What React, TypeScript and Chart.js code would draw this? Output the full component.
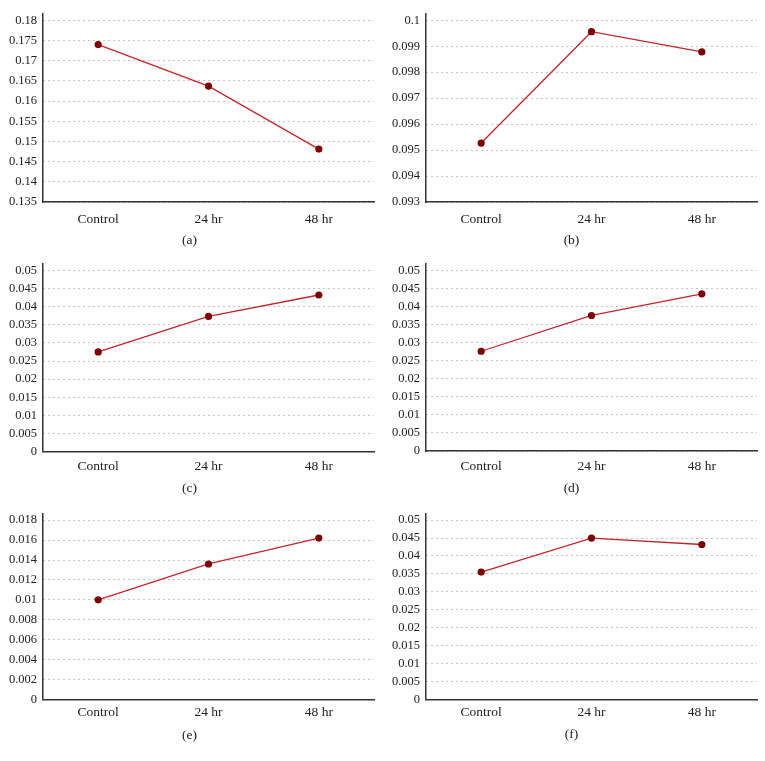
import React, { useEffect, useRef } from "react";
import { Chart, registerables } from "chart.js";

Chart.register(...registerables);

const categories = ["Control", "24 hr", "48 hr"];

const seriesA = [0.174, 0.1637, 0.1481];
const seriesB = [0.09527, 0.09956, 0.09878];
const seriesC = [0.0275, 0.0373, 0.0432];
const seriesD = [0.0276, 0.0375, 0.0435];
const seriesE = [0.01, 0.0136, 0.0162];
const seriesF = [0.0355, 0.045, 0.0432];

const ticksA = [0.135, 0.14, 0.145, 0.15, 0.155, 0.16, 0.165, 0.17, 0.175, 0.18];
const ticksB = [0.093, 0.094, 0.095, 0.096, 0.097, 0.098, 0.099, 0.1];
const ticksC = [0, 0.005, 0.01, 0.015, 0.02, 0.025, 0.03, 0.035, 0.04, 0.045, 0.05];
const ticksD = [0, 0.005, 0.01, 0.015, 0.02, 0.025, 0.03, 0.035, 0.04, 0.045, 0.05];
const ticksE = [0, 0.002, 0.004, 0.006, 0.008, 0.01, 0.012, 0.014, 0.016, 0.018];
const ticksF = [0, 0.005, 0.01, 0.015, 0.02, 0.025, 0.03, 0.035, 0.04, 0.045, 0.05];

const captions = ["(a)", "(b)", "(c)", "(d)", "(e)", "(f)"];

const FONT = "'Liberation Serif', 'DejaVu Serif', serif";
const LINE_COLOR = "#c0272d";
const POINT_COLOR = "#7a0000";

type Layout = {
  left: number;
  top: number;
  w: number;
  h: number;
  topTickY: number;
  bottomY: number;
  xPad: number;
  capX: number;
  capY: number;
};

const layouts: Layout[] = [
  { left: 0, top: 0, w: 382, h: 250, topTickY: 15, bottomY: 202, xPad: 9.5, capX: 189.5, capY: 240 },
  { left: 383, top: 0, w: 382, h: 250, topTickY: 15, bottomY: 202, xPad: 9.5, capX: 188.5, capY: 240 },
  { left: 0, top: 250, w: 382, h: 250, topTickY: 15.7, bottomY: 201.7, xPad: 6.5, capX: 189.5, capY: 238.3 },
  { left: 383, top: 250, w: 382, h: 250, topTickY: 15, bottomY: 201, xPad: 7.8, capX: 188.5, capY: 238.3 },
  { left: 0, top: 500, w: 382, h: 261, topTickY: 12.3, bottomY: 199.3, xPad: 5.5, capX: 189.5, capY: 235 },
  { left: 383, top: 500, w: 382, h: 261, topTickY: 11, bottomY: 199.3, xPad: 5.2, capX: 188.5, capY: 234.3 },
];

const panels = [
  { data: seriesA, ticks: ticksA },
  { data: seriesB, ticks: ticksB },
  { data: seriesC, ticks: ticksC },
  { data: seriesD, ticks: ticksD },
  { data: seriesE, ticks: ticksE },
  { data: seriesF, ticks: ticksF },
];

function fmt(v: number): string {
  return String(parseFloat(Number(v).toFixed(6)));
}

function Panel({ idx }: { idx: number }) {
  const ref = useRef<HTMLCanvasElement | null>(null);
  const L = layouts[idx];
  const P = panels[idx];

  useEffect(() => {
    if (!ref.current) return;
    const tv = P.ticks;
    const minV = tv[0];
    const topV = tv[tv.length - 1];
    const ext = 7;
    const maxV = topV + ((topV - minV) * ext) / (L.bottomY - L.topTickY);
    const chart = new Chart(ref.current, {
      type: "line",
      data: {
        labels: categories,
        datasets: [
          {
            data: P.data,
            borderColor: LINE_COLOR,
            borderWidth: 1.3,
            pointRadius: 3.6,
            pointBackgroundColor: POINT_COLOR,
            pointBorderColor: POINT_COLOR,
            pointBorderWidth: 0,
            tension: 0,
            fill: false,
          },
        ],
      },
      options: {
        animation: false,
        responsive: false,
        maintainAspectRatio: false,
        layout: { padding: { top: L.topTickY - ext, right: 8, left: 0, bottom: 0 } },
        plugins: {
          legend: { display: false },
          tooltip: { enabled: false },
          title: { display: false },
        },
        scales: {
          x: {
            offset: true,
            grid: { display: false, drawTicks: false },
            border: { display: true, color: "#333", width: 1.5 },
            ticks: { color: "#222", font: { family: FONT, size: 13.5 }, padding: L.xPad },
            afterFit: (s: any) => {
              s.height = L.h - L.bottomY;
            },
          },
          y: {
            min: minV,
            max: maxV,
            grid: { color: "#8c8c8c", lineWidth: 1, drawTicks: false },
            border: { display: true, color: "#333", width: 1.5, dash: [1, 4] },
            ticks: {
              color: "#222",
              font: { family: FONT, size: 12.5 },
              padding: 6,
              callback: (v: any) => fmt(v),
            },
            afterBuildTicks: (s: any) => {
              s.ticks = tv.map((v) => ({ value: v }));
            },
            afterFit: (s: any) => {
              s.width = 43;
            },
          },
        },
      } as any,
    });
    return () => chart.destroy();
  }, []);

  return (
    <div style={{ position: "absolute", left: L.left, top: L.top, width: L.w, height: L.h }}>
      <canvas ref={ref} width={L.w} height={L.h} style={{ width: L.w, height: L.h, display: "block" }} />
      <div
        style={{
          position: "absolute",
          left: L.capX,
          top: L.capY,
          transform: "translate(-50%, -50%)",
          fontFamily: FONT,
          fontSize: 13.5,
          color: "#222",
          whiteSpace: "nowrap",
          lineHeight: 1,
        }}
      >
        {captions[idx]}
      </div>
    </div>
  );
}

export default function App() {
  return (
    <div style={{ position: "absolute", left: 0, top: 0, width: 765, height: 761, background: "#fff" }}>
      {layouts.map((_, i) => (
        <Panel key={i} idx={i} />
      ))}
    </div>
  );
}
